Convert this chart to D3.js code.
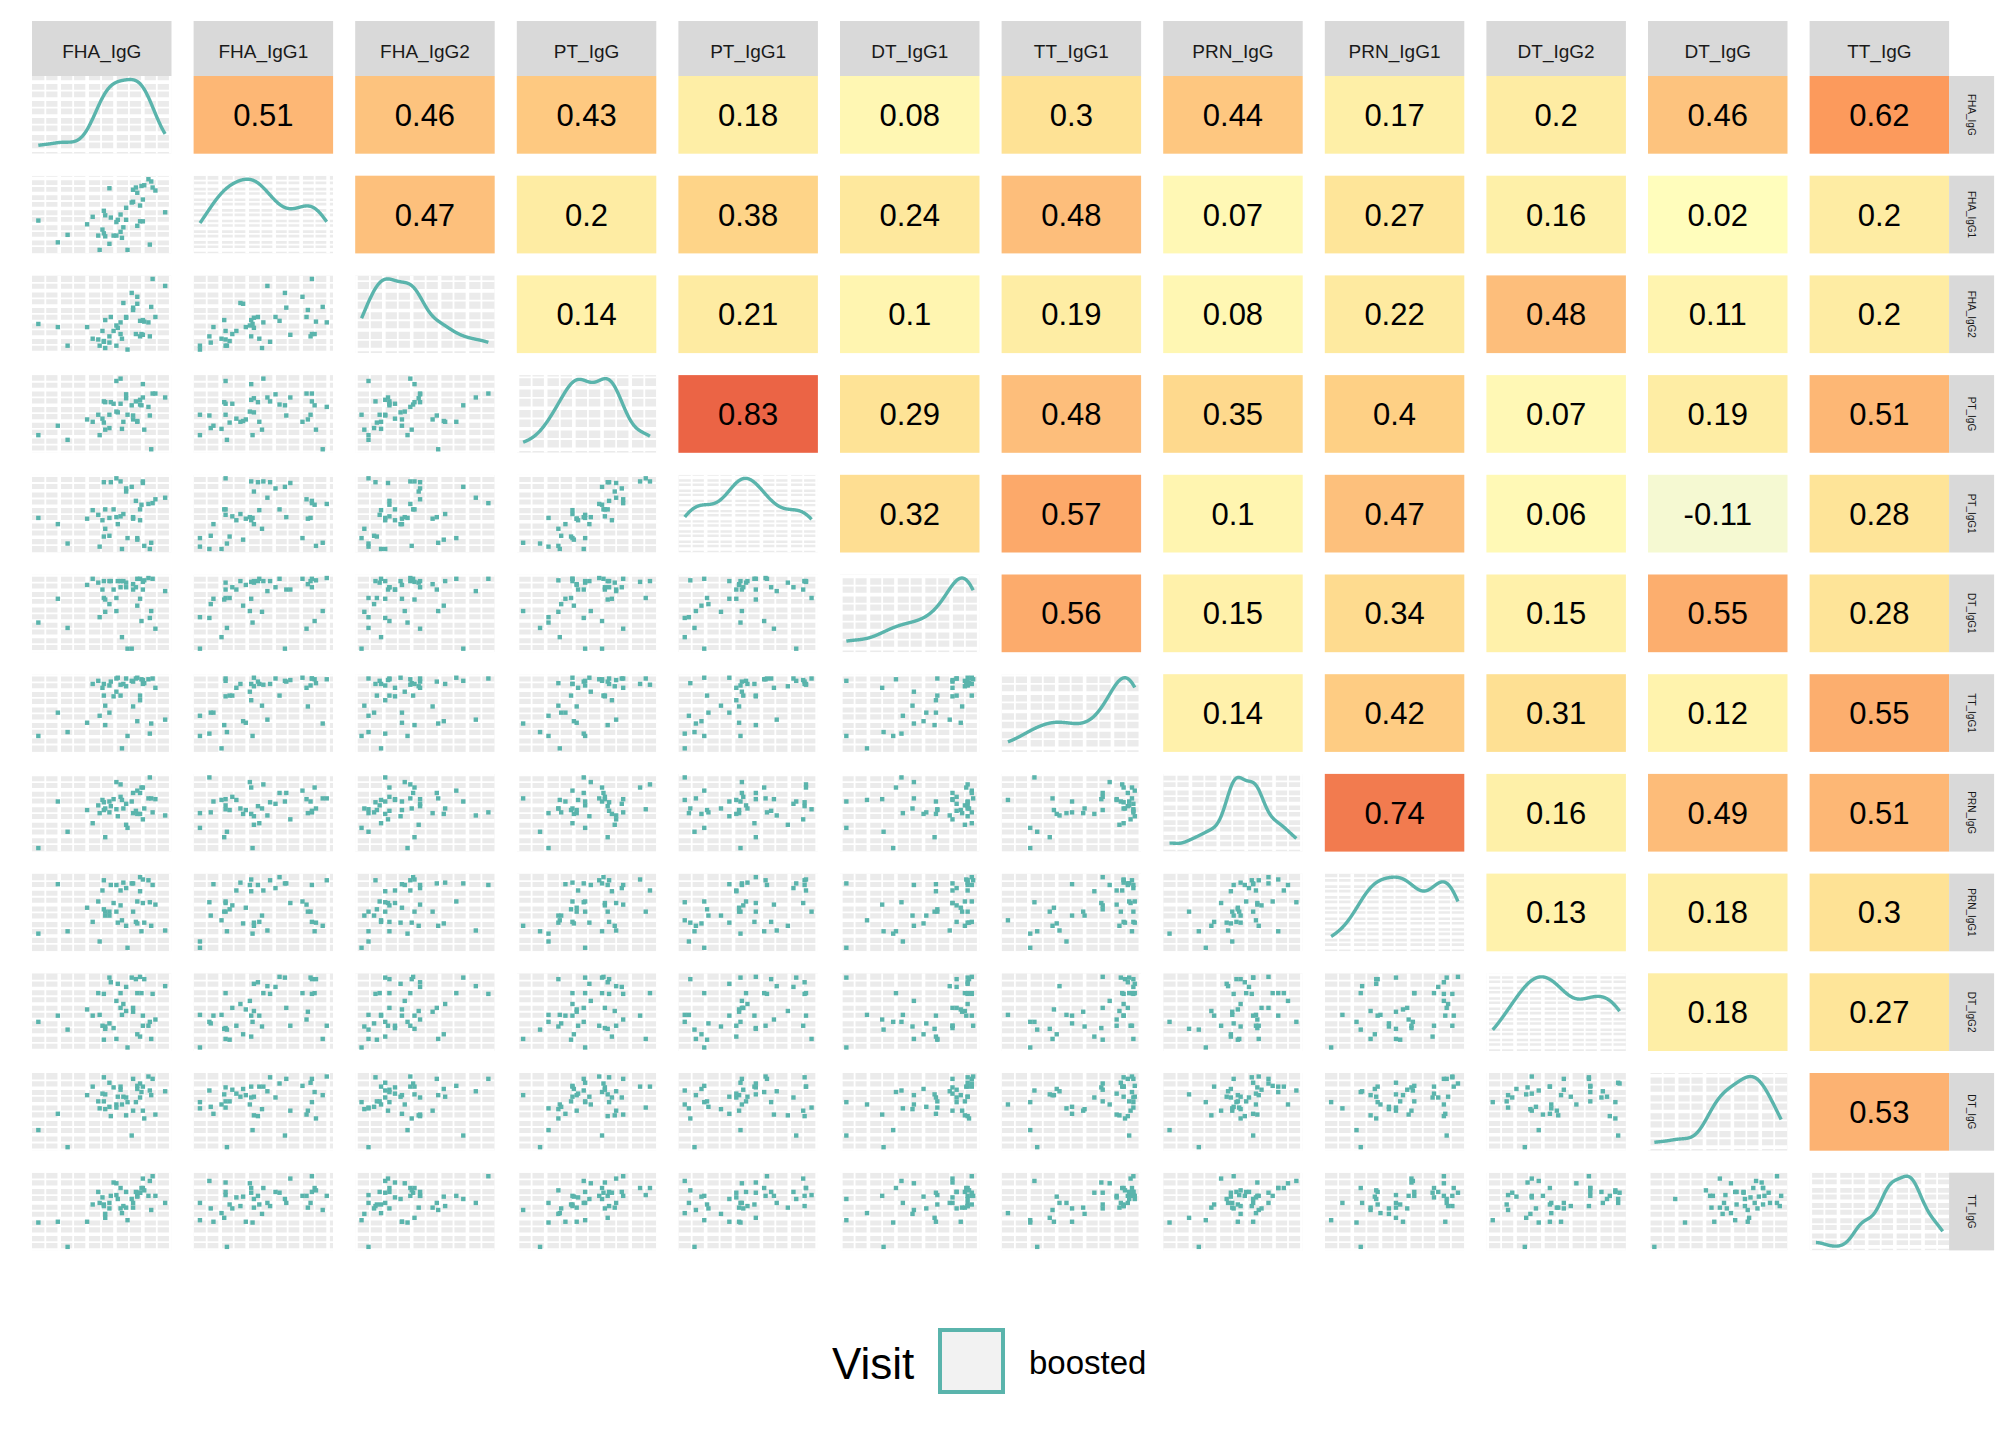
<!DOCTYPE html>
<html><head><meta charset="utf-8">
<script src="https://cdn.jsdelivr.net/npm/d3@7"></script>
<style>body{margin:0;background:#fff}svg{display:block}</style>
</head><body>
<svg id="chart" width="2016" height="1440"></svg>
<script>
// ---------------- data (one entry per subject, same subject order in every array) ----------------
const variables = ["FHA_IgG","FHA_IgG1","FHA_IgG2","PT_IgG","PT_IgG1","DT_IgG1","TT_IgG1","PRN_IgG","PRN_IgG1","DT_IgG2","DT_IgG","TT_IgG"];

const FHA_IgG  = [0.5,1.9,2.6,4.0,4.4,4.8,4.9,5.1,5.2,5.2,5.3,5.3,5.6,5.6,5.7,5.9,6.1,6.1,6.2,6.4,6.4,6.5,6.6,6.8,6.8,6.9,7.2,7.3,7.3,7.5,7.6,7.6,7.8,7.8,7.9,8.0,8.0,8.1,8.4,8.5,8.6,8.7,8.9,9.6];
const FHA_IgG1 = [4.4,1.5,2.5,3.9,4.9,2.4,0.5,3.2,2.7,5.7,5.1,2.3,8.7,1.3,4.8,2.4,4.2,2.4,4.5,5.2,2.9,2.1,3.5,6.1,4.5,0.5,6.8,6.9,8.5,8.8,8.1,3.7,6.4,4.3,9.0,4.3,7.2,9.1,9.9,1.2,9.6,8.8,8.4,5.5];
const FHA_IgG2 = [3.7,3.3,0.9,3.3,1.8,1.7,0.9,2.8,1.5,1.4,0.6,4.2,2.1,1.3,4.6,2.8,3.5,0.9,3.2,3.9,2.4,1.8,6.4,4.6,4.5,0.4,7.7,5.8,5.5,2.4,7.2,6.3,4.1,2.1,2.4,4.2,2.3,4.0,3.9,2.1,5.9,9.5,4.6,8.6];
const PT_IgG   = [2.2,3.4,1.6,4.2,3.9,4.8,2.2,4.3,3.8,6.5,2.9,6.4,4.8,3.1,6.4,6.2,5.2,9.1,5.1,9.4,6.2,3.0,3.9,7.4,6.9,4.8,6.0,4.7,4.2,6.5,3.9,4.0,6.1,6.7,6.0,8.7,7.0,2.9,5.8,4.7,0.4,7.5,7.5,7.0];
const PT_IgG1  = [4.5,3.7,1.2,4.4,5.5,4.9,0.8,4.2,2.1,9.1,3.1,5.6,4.5,2.2,9.1,5.6,4.6,9.6,3.7,9.2,4.7,0.5,5.0,8.3,7.9,1.9,8.5,4.6,4.4,6.7,1.9,1.7,5.6,4.2,6.2,9.2,9.0,0.9,6.3,0.5,1.3,6.4,6.9,7.1];
const DT_IgG1  = [3.8,6.9,3.1,8.7,9.5,9.0,4.5,8.1,7.0,9.2,5.2,6.8,9.2,6.2,9.2,8.1,5.3,7.0,9.2,9.2,8.4,1.9,9.2,8.4,9.0,0.4,0.4,8.1,8.8,8.4,9.5,6.0,9.5,6.9,4.0,9.1,8.1,9.3,9.6,4.4,5.3,9.5,3.0,7.9];
const TT_IgG1  = [2.1,5.1,2.6,3.8,8.8,9.2,4.7,8.3,7.3,8.8,6.0,3.5,8.6,5.1,9.1,7.2,7.8,9.5,9.6,8.7,7.3,0.5,8.8,9.5,8.5,2.1,9.2,9.1,5.9,9.5,9.6,4.0,7.3,6.7,9.4,8.8,9.3,8.9,9.4,2.4,3.7,9.5,8.3,4.2];
const PRN_IgG  = [0.5,6.5,2.6,5.4,3.7,6.0,5.0,6.7,5.4,6.4,5.6,1.9,6.5,5.1,5.9,6.8,9.0,5.5,4.6,8.7,7.1,6.7,5.6,6.2,3.5,3.1,6.5,7.6,5.0,5.3,7.9,4.9,7.6,4.9,8.3,8.3,4.2,5.6,6.9,9.6,6.9,5.1,6.8,4.7];
const PRN_IgG1 = [2.3,8.6,2.6,5.6,3.8,6.4,1.3,7.8,5.4,9.1,4.6,5.1,5.1,4.6,8.5,6.2,8.5,5.1,3.7,7.8,5.9,4.0,8.8,8.1,3.3,0.5,8.7,8.7,5.1,3.8,6.4,3.6,9.5,7.7,2.6,9.2,6.2,3.7,9.1,6.3,3.3,8.5,6.0,2.7];
const DT_IgG2  = [3.7,4.5,2.7,5.3,4.5,7.4,4.6,3.2,1.4,7.3,3.1,2.8,9.4,3.5,8.8,2.9,6.4,1.5,8.6,7.4,5.5,4.6,6.0,8.2,5.1,0.4,9.4,5.5,5.0,9.2,7.4,2.1,9.5,1.8,7.4,4.5,3.2,9.2,3.2,3.7,1.5,7.3,4.0,8.3];
const DT_IgG   = [2.6,4.7,0.4,7.1,8.2,6.3,5.4,7.3,6.3,9.4,5.3,7.2,8.7,5.6,4.4,8.1,5.9,5.5,6.9,8.2,7.8,5.9,6.9,6.8,4.5,6.2,1.9,9.2,5.1,6.2,8.3,7.9,8.6,6.8,7.5,8.2,5.1,4.1,9.5,7.7,7.1,9.2,4.6,7.6];
const TT_IgG   = [3.5,3.6,0.4,3.6,5.8,7.4,6.0,6.7,5.8,5.6,4.6,4.1,6.0,5.3,6.9,8.6,8.5,7.0,6.5,7.9,5.3,4.7,5.6,7.4,5.4,3.8,6.5,6.0,5.4,7.4,6.9,6.8,7.3,7.3,7.9,7.9,9.1,7.6,6.9,8.8,5.1,9.4,6.9,6.0];

// correlation labels of the upper panels, row by row (row variable vs. each later column variable)
const corrUpper = [
  [0.51,0.46,0.43,0.18,0.08,0.3,0.44,0.17,0.2,0.46,0.62],
  [0.47,0.2,0.38,0.24,0.48,0.07,0.27,0.16,0.02,0.2],
  [0.14,0.21,0.1,0.19,0.08,0.22,0.48,0.11,0.2],
  [0.83,0.29,0.48,0.35,0.4,0.07,0.19,0.51],
  [0.32,0.57,0.1,0.47,0.06,-0.11,0.28],
  [0.56,0.15,0.34,0.15,0.55,0.28],
  [0.14,0.42,0.31,0.12,0.55],
  [0.74,0.16,0.49,0.51],
  [0.13,0.18,0.3],
  [0.18,0.27],
  [0.53]
];
const legendTitle = "Visit";
const visitLevels = ["boosted"];

// ---------------- layout / style ----------------
const dataByVar = {FHA_IgG,FHA_IgG1,FHA_IgG2,PT_IgG,PT_IgG1,DT_IgG1,TT_IgG1,PRN_IgG,PRN_IgG1,DT_IgG2,DT_IgG,TT_IgG};
const L = {left:32, top:76, colStep:161.6, rowStep:99.7, pw:139.5, ph:77.7, stripTop:21, stripH:55, stripW:45};
const teal = "#5ab4ac";
const font = "'Liberation Sans', Arial, Helvetica, sans-serif";
const fillScale = d3.scaleLinear()
  .domain([-0.11,0,0.1,0.2,0.3,0.4,0.48,0.57,0.62,0.83])
  .range(["#f5f9d2","#ffffbf","#fff5b0","#feeca3","#fee295","#fed085","#fdbe7b","#fca96a","#fc9a5c","#eb6445"])
  .clamp(true);

const svg = d3.select("#chart");
svg.append("rect").attr("width",2016).attr("height",1440).attr("fill","#fff");
svg.append("defs").append("clipPath").attr("id","pclip")
  .append("rect").attr("width",L.pw).attr("height",L.ph);

function padded(vals){
  const e = d3.extent(vals), p = (e[1]-e[0])*0.05;
  return [e[0]-p, e[1]+p];
}
const xScales = variables.map(v => d3.scaleLinear().domain(padded(dataByVar[v])).range([0, L.pw]));
const yScales = variables.map(v => d3.scaleLinear().domain(padded(dataByVar[v])).range([L.ph, 0]));

function minorBreaks(ticks, scale){
  const d = scale.domain(), lo = Math.min(d[0],d[1]), hi = Math.max(d[0],d[1]);
  if (ticks.length < 2) return [];
  const st = ticks[1]-ticks[0], out = [];
  for (let m = ticks[0]-st/2; m <= ticks[ticks.length-1]+st/2+1e-9; m += st) if (m>=lo && m<=hi) out.push(m);
  return out;
}
function drawGrid(g, sx, sy){
  g.append("rect").attr("width",L.pw).attr("height",L.ph).attr("fill","#ebebeb");
  const xt = sx.ticks(5), yt = sy.ticks(5);
  const gg = g.append("g").attr("stroke","#fff");
  gg.selectAll(".xm").data(minorBreaks(xt,sx)).join("line").attr("x1",d=>sx(d)).attr("x2",d=>sx(d)).attr("y1",0).attr("y2",L.ph).attr("stroke-width",1.8);
  gg.selectAll(".ym").data(minorBreaks(yt,sy)).join("line").attr("y1",d=>sy(d)).attr("y2",d=>sy(d)).attr("x1",0).attr("x2",L.pw).attr("stroke-width",1.8);
  gg.selectAll(".xM").data(xt).join("line").attr("x1",d=>sx(d)).attr("x2",d=>sx(d)).attr("y1",0).attr("y2",L.ph).attr("stroke-width",3.6);
  gg.selectAll(".yM").data(yt).join("line").attr("y1",d=>sy(d)).attr("y2",d=>sy(d)).attr("x1",0).attr("x2",L.pw).attr("stroke-width",3.6);
}
function kde(vals){
  const n = vals.length, sorted = vals.slice().sort(d3.ascending);
  const sd = d3.deviation(vals), iqr = d3.quantile(sorted,0.75)-d3.quantile(sorted,0.25);
  const bw = 0.9*Math.min(sd, iqr/1.34)*Math.pow(n,-0.2);
  const [lo,hi] = d3.extent(vals);
  return d3.range(512).map(i => {
    const x = lo + (hi-lo)*i/511;
    const y = d3.sum(vals, v => Math.exp(-0.5*((x-v)/bw)**2))/(n*bw*Math.sqrt(2*Math.PI));
    return [x,y];
  });
}

// ---------------- panels ----------------
variables.forEach((rv, r) => {
  variables.forEach((cv, c) => {
    const g = svg.append("g").attr("transform",`translate(${L.left+c*L.colStep},${L.top+r*L.rowStep})`);
    if (r < c) {
      const val = corrUpper[r][c-r-1];
      g.append("rect").attr("width",L.pw).attr("height",L.ph).attr("fill",fillScale(val));
      g.append("text").attr("x",L.pw/2).attr("y",L.ph/2+11).attr("text-anchor","middle")
        .attr("font-family",font).attr("font-size",31).attr("fill","#000").text(String(val));
      return;
    }
    const sx = xScales[c];
    const body = g.append("g").attr("clip-path","url(#pclip)");
    if (r === c) {
      const dens = kde(dataByVar[cv]);
      const ymax = d3.max(dens, d=>d[1]);
      const sy = d3.scaleLinear().domain([-0.05*ymax, 1.05*ymax]).range([L.ph,0]);
      drawGrid(body, sx, sy);
      body.append("path").datum(dens).attr("fill","none").attr("stroke",teal).attr("stroke-width",3.4)
        .attr("stroke-linejoin","round").attr("d", d3.line().x(d=>sx(d[0])).y(d=>sy(d[1])));
    } else {
      const sy = yScales[r];
      drawGrid(body, sx, sy);
      const xs = dataByVar[cv], ys = dataByVar[rv];
      body.selectAll("rect.pt").data(d3.range(xs.length)).join("rect").attr("class","pt")
        .attr("x",i=>sx(xs[i])-2.2).attr("y",i=>sy(ys[i])-2.2).attr("width",4.4).attr("height",4.4).attr("fill",teal);
    }
  });
});

// ---------------- strips ----------------
variables.forEach((v, c) => {
  const x = L.left + c*L.colStep;
  svg.append("rect").attr("x",x).attr("y",L.stripTop).attr("width",L.pw).attr("height",L.stripH).attr("fill","#d9d9d9");
  svg.append("text").attr("x",x+L.pw/2).attr("y",L.stripTop+36.5).attr("text-anchor","middle")
    .attr("font-family",font).attr("font-size",19).attr("fill","#1a1a1a").text(v);
});
variables.forEach((v, r) => {
  const x = L.left + 11*L.colStep + L.pw, y = L.top + r*L.rowStep;
  svg.append("rect").attr("x",x).attr("y",y).attr("width",L.stripW).attr("height",L.ph).attr("fill","#d9d9d9");
  svg.append("text").attr("transform",`translate(${x+L.stripW/2},${y+L.ph/2}) rotate(90)`)
    .attr("y",3.5).attr("text-anchor","middle").attr("font-family",font).attr("font-size",10).attr("fill","#1a1a1a").text(v);
});

// ---------------- legend ----------------
const lg = svg.append("g");
lg.append("text").attr("x",832).attr("y",1379).attr("font-family",font).attr("font-size",44).attr("fill","#000").text(legendTitle);
visitLevels.forEach((lv,i) => {
  lg.append("rect").attr("x",940).attr("y",1330).attr("width",63).attr("height",62)
    .attr("fill","#f2f2f2").attr("stroke",teal).attr("stroke-width",4);
  lg.append("text").attr("x",1029).attr("y",1374).attr("font-family",font).attr("font-size",33).attr("fill","#000").text(lv);
});
</script>
</body></html>
